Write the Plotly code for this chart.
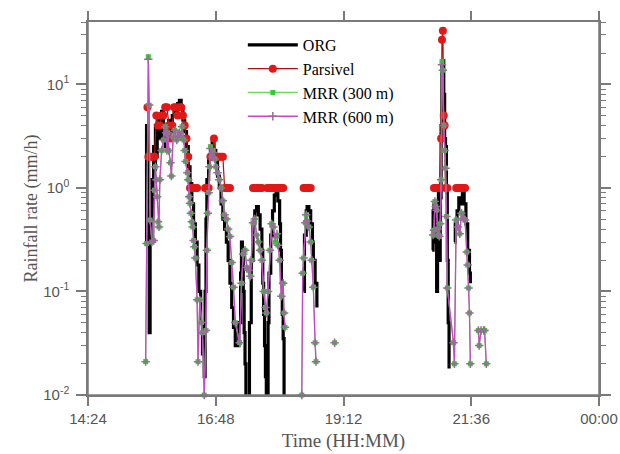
import math
import plotly.graph_objects as go

DAY = "2000-01-01 "

# ---------------- data (time HH:MM, rainfall rate mm/h); None = gap ----------------
org = [
    ("15:29", 0.3), ("15:30", 4.0), ("15:31", 0.6), ("15:32", 0.3), ("15:33", 0.04), ("15:34", 0.3),
    ("15:35", 1.2), ("15:36", 0.5), ("15:37", 1.0), ("15:38", 2.5), ("15:39", 1.5), ("15:40", 4.0),
    ("15:41", 2.0), ("15:42", 3.0), ("15:43", 4.5), ("15:45", 3.0), ("15:47", 5.5), ("15:49", 4.0),
    ("15:51", 2.5), ("15:53", 3.0), ("15:55", 4.5), ("15:57", 3.5), ("15:59", 5.0), ("16:01", 6.0),
    ("16:03", 5.5), ("16:05", 6.5), ("16:07", 7.0), ("16:09", 6.0), ("16:11", 4.5), ("16:13", 3.5),
    ("16:15", 2.5), ("16:17", 1.6), ("16:19", 1.1), ("16:21", 0.7), ("16:23", 0.45), ("16:25", 0.3),
    ("16:27", 0.18), ("16:29", 0.1), ("16:31", 0.05), ("16:33", 0.025), ("16:35", 0.015),
    ("16:36", 0.1), ("16:37", 0.5), ("16:38", 1.2), ("16:40", 2.0), ("16:42", 2.5), ("16:44", 2.8),
    ("16:46", 2.3), ("16:48", 1.8), ("16:50", 1.3), ("16:52", 1.0), ("16:54", 0.7), ("16:56", 0.5),
    ("16:58", 0.4), ("17:00", 0.3), ("17:02", 0.2), ("17:04", 0.12), ("17:06", 0.07), ("17:08", 0.045),
    ("17:10", 0.03), ("17:14", 0.05), ("17:16", 0.15), ("17:17", 0.3), ("17:18", 0.25), ("17:19", 0.1),
    ("17:20", 0.04), ("17:21", 0.02), ("17:22", 0.004), ("17:24", 0.004), ("17:26", 0.05), ("17:28", 0.2),
    ("17:30", 0.45), ("17:32", 0.6), ("17:34", 0.66), ("17:36", 0.55), ("17:38", 0.4), ("17:40", 0.25),
    ("17:41", 0.12), ("17:42", 0.06), ("17:43", 0.03), ("17:44", 0.015), ("17:45", 0.004),
    ("17:47", 0.05), ("17:48", 0.15), ("17:50", 0.35), ("17:52", 0.6), ("17:54", 0.85), ("17:56", 0.9),
    ("17:58", 0.75), ("18:00", 0.45), ("18:01", 0.25), ("18:02", 0.12), ("18:03", 0.06), ("18:04", 0.035),
    ("18:05", 0.004), ("18:15", None),
    ("18:27", 0.1), ("18:28", 0.35), ("18:30", 0.6), ("18:31", 0.66), ("18:33", 0.6), ("18:35", 0.45),
    ("18:37", 0.3), ("18:38", 0.2), ("18:40", 0.12), ("18:42", 0.07), ("18:50", None),
    ("20:52", 0.25), ("20:53", 0.6), ("20:54", 0.7), ("20:55", 0.5), ("20:56", 0.3), ("20:57", 0.1),
    ("20:58", 0.4), ("20:59", 0.9), ("21:00", 0.2), ("21:01", 0.8), ("21:02", 4.0), ("21:03", 15.0),
    ("21:04", 17.0), ("21:05", 8.0), ("21:06", 3.0), ("21:07", 2.5), ("21:08", 1.0), ("21:09", 0.2),
    ("21:10", 0.05), ("21:11", 0.018), ("21:14", None),
    ("21:17", 0.3), ("21:18", 0.45), ("21:20", 0.6), ("21:22", 0.8), ("21:24", 0.7), ("21:26", 0.9),
    ("21:28", 0.7), ("21:30", 0.45), ("21:32", 0.25), ("21:34", 0.15), ("21:35", 0.12),
]

parsivel = [
    ("15:31", 6), ("15:32", 2), ("15:33", 2), ("15:35", 2), ("15:37", 2), ("15:39", 2), ("15:41", 5),
    ("15:43", 4), ("15:45", 4), ("15:47", 5), ("15:49", 5), ("15:51", 6), ("15:53", 6), ("15:55", 4),
    ("15:57", 3), ("15:59", 4), ("16:01", 6), ("16:03", 6), ("16:05", 5), ("16:07", 6), ("16:09", 6),
    ("16:11", 5), ("16:13", 4), ("16:15", 3), ("16:17", 2), ("16:19", 1), ("16:21", 1), ("16:23", 1),
    ("16:25", 1), ("16:27", 1), ("16:31", None),
    ("16:36", 1), ("16:38", 1), ("16:40", 1), ("16:42", 2), ("16:44", 2), ("16:46", 3), ("16:48", 2),
    ("16:50", 2), ("16:52", 2), ("16:54", 2), ("16:56", 2), ("16:58", 1), ("17:00", 1), ("17:02", 1),
    ("17:04", 1), ("17:10", None),
    ("17:30", 1), ("17:32", 1), ("17:34", 1), ("17:36", 1), ("17:38", 1), ("17:40", 1), ("17:43", None),
    ("17:46", 1), ("17:48", 1), ("17:50", 1), ("17:52", 1), ("17:54", 1), ("17:56", 1), ("17:58", 1),
    ("18:00", 1), ("18:02", 1), ("18:04", 1), ("18:15", None),
    ("18:27", 1), ("18:29", 1), ("18:31", 1), ("18:33", 1), ("18:35", 1), ("18:45", None),
    ("20:54", 1), ("20:56", 1), ("20:58", 1), ("21:00", 1), ("21:02", 3), ("21:03", 27), ("21:04", 33),
    ("21:05", 5), ("21:06", 4), ("21:07", 1), ("21:09", 1), ("21:14", None),
    ("21:19", 1), ("21:21", 1), ("21:23", 1), ("21:25", 1), ("21:27", 1), ("21:29", 1),
]

mrr300 = [
    ("15:29", 0.021), ("15:30", 0.29), ("15:32", 18.5), ("15:33", 6.3), ("15:34", 0.49), ("15:36", 0.30),
    ("15:38", 0.31), ("15:39", 0.95), ("15:40", 1.6), ("15:41", 1.2), ("15:42", 0.82), ("15:43", 0.47),
    ("15:44", 0.42), ("15:45", 1.2), ("15:47", 2.3), ("15:49", 2.9), ("15:51", 3.9), ("15:52", 3.4),
    ("15:53", 2.3), ("15:54", 3.4), ("15:55", 2.3), ("15:57", 1.75), ("15:58", 1.3), ("16:00", 3.1),
    ("16:02", 3.6), ("16:04", 2.9), ("16:05", 3.1), ("16:07", 3.4), ("16:09", 3.1), ("16:10", 3.9),
    ("16:12", 2.9), ("16:13", 2.3), ("16:14", 1.8), ("16:16", 1.4), ("16:17", 1.2), ("16:18", 0.82),
    ("16:19", 0.71), ("16:20", 0.57), ("16:21", 0.47), ("16:22", 0.42), ("16:23", 0.31), ("16:24", 0.27),
    ("16:25", 0.21), ("16:27", 0.083), ("16:28", 0.021), ("16:30", 0.083), ("16:32", 0.05), ("16:33", 0.04),
    ("16:35", 0.01), ("16:37", 0.042), ("16:38", 0.25), ("16:39", 0.57), ("16:40", 0.9), ("16:41", 1.6),
    ("16:42", 2.5), ("16:44", 2.0), ("16:45", 2.3), ("16:47", 1.9), ("16:48", 1.6), ("16:50", 1.4),
    ("16:52", 1.2), ("16:54", 1.0), ("16:56", 0.75), ("16:58", 0.55), ("17:00", 0.5), ("17:02", 0.4),
    ("17:04", 0.34), ("17:06", 0.19), ("17:08", 0.11), ("17:10", 0.05), ("17:15", 0.032), ("17:17", 0.12),
    ("17:19", 0.23), ("17:21", 0.25), ("17:23", 0.17), ("17:25", 0.16), ("17:27", 0.14), ("17:28", 0.2),
    ("17:30", 0.46), ("17:32", 0.5), ("17:34", 0.35), ("17:36", 0.3), ("17:38", 0.25), ("17:40", 0.2),
    ("17:42", 0.1), ("17:44", 0.07), ("17:45", 0.062), ("17:47", 0.1), ("17:49", 0.25), ("17:51", 0.45),
    ("17:53", 0.42), ("17:55", 0.3), ("17:57", 0.35), ("17:58", 0.28), ("18:00", 0.2), ("18:02", 0.09),
    ("18:04", 0.12), ("18:05", 0.062), ("18:06", 0.045), ("18:15", None),
    ("18:25", 0.01), ("18:26", 0.15), ("18:27", 0.21), ("18:29", 0.46), ("18:30", 0.55), ("18:31", 0.48),
    ("18:33", 0.42), ("18:35", 0.3), ("18:36", 0.2), ("18:38", 0.11), ("18:40", 0.032), ("18:41", 0.021),
    ("18:50", None), ("19:02", 0.032), ("19:10", None),
    ("20:53", 0.35), ("20:54", 0.39), ("20:55", 0.74), ("20:56", 0.66), ("20:57", 0.61), ("20:58", 0.40),
    ("20:59", 0.35), ("21:00", 0.34), ("21:01", 0.45), ("21:02", 1.2), ("21:03", 16.6), ("21:04", 13.7),
    ("21:05", 4.0), ("21:06", 2.3), ("21:07", 1.55), ("21:08", 0.53), ("21:09", 0.108), ("21:16", 0.032),
    ("21:17", 0.02), ("21:19", 0.49), ("21:21", 0.42), ("21:23", 0.36), ("21:25", 0.57), ("21:27", 0.51),
    ("21:29", 0.49), ("21:31", 0.24), ("21:32", 0.18), ("21:33", 0.108), ("21:34", 0.062), ("21:35", 0.02),
    ("21:40", None),
    ("21:44", 0.042), ("21:45", 0.03), ("21:47", 0.042), ("21:50", 0.042), ("21:51", 0.042), ("21:53", 0.02),
]

mrr600 = [
    ("15:29", 0.021), ("15:30", 0.29), ("15:32", 17.5), ("15:33", 6.3), ("15:34", 0.49), ("15:36", 0.30),
    ("15:38", 0.31), ("15:39", 0.95), ("15:40", 1.6), ("15:41", 1.2), ("15:42", 0.82), ("15:43", 0.47),
    ("15:44", 0.42), ("15:45", 1.2), ("15:47", 2.3), ("15:49", 2.9), ("15:51", 3.9), ("15:52", 3.4),
    ("15:53", 2.3), ("15:54", 3.4), ("15:55", 2.3), ("15:57", 1.75), ("15:58", 1.3), ("16:00", 3.1),
    ("16:02", 3.6), ("16:04", 2.9), ("16:05", 3.1), ("16:07", 3.4), ("16:09", 3.1), ("16:10", 3.9),
    ("16:12", 2.9), ("16:13", 2.3), ("16:14", 1.8), ("16:16", 1.4), ("16:17", 1.2), ("16:18", 0.82),
    ("16:19", 0.71), ("16:20", 0.57), ("16:21", 0.47), ("16:22", 0.42), ("16:23", 0.31), ("16:24", 0.27),
    ("16:25", 0.21), ("16:27", 0.083), ("16:28", 0.021), ("16:30", 0.083), ("16:32", 0.05), ("16:33", 0.04),
    ("16:35", 0.01), ("16:37", 0.042), ("16:38", 0.25), ("16:39", 0.57), ("16:40", 0.9), ("16:41", 1.6),
    ("16:42", 2.4), ("16:44", 2.0), ("16:45", 2.2), ("16:47", 1.9), ("16:48", 1.6), ("16:50", 1.4),
    ("16:52", 1.2), ("16:54", 1.0), ("16:56", 0.75), ("16:58", 0.55), ("17:00", 0.5), ("17:02", 0.4),
    ("17:04", 0.34), ("17:06", 0.19), ("17:08", 0.11), ("17:10", 0.05), ("17:15", 0.032), ("17:17", 0.12),
    ("17:19", 0.23), ("17:21", 0.25), ("17:23", 0.17), ("17:25", 0.16), ("17:27", 0.14), ("17:28", 0.2),
    ("17:30", 0.46), ("17:32", 0.5), ("17:34", 0.35), ("17:36", 0.3), ("17:38", 0.25), ("17:40", 0.2),
    ("17:42", 0.1), ("17:44", 0.07), ("17:45", 0.062), ("17:47", 0.1), ("17:49", 0.25), ("17:51", 0.45),
    ("17:53", 0.42), ("17:55", 0.33), ("17:57", 0.36), ("17:58", 0.28), ("18:00", 0.2), ("18:02", 0.09),
    ("18:04", 0.12), ("18:05", 0.062), ("18:06", 0.045), ("18:15", None),
    ("18:25", 0.01), ("18:26", 0.15), ("18:27", 0.21), ("18:29", 0.46), ("18:30", 0.55), ("18:31", 0.48),
    ("18:33", 0.42), ("18:35", 0.3), ("18:36", 0.2), ("18:38", 0.11), ("18:40", 0.032), ("18:41", 0.021),
    ("18:50", None), ("19:02", 0.032), ("19:10", None),
    ("20:53", 0.35), ("20:54", 0.39), ("20:55", 0.74), ("20:56", 0.66), ("20:57", 0.61), ("20:58", 0.40),
    ("20:59", 0.35), ("21:00", 0.34), ("21:01", 0.45), ("21:02", 1.2), ("21:03", 15.5), ("21:04", 13.7),
    ("21:05", 4.0), ("21:06", 2.3), ("21:07", 1.55), ("21:08", 0.53), ("21:09", 0.108), ("21:16", 0.032),
    ("21:17", 0.02), ("21:19", 0.49), ("21:21", 0.42), ("21:23", 0.36), ("21:25", 0.57), ("21:27", 0.51),
    ("21:29", 0.49), ("21:31", 0.24), ("21:32", 0.18), ("21:33", 0.108), ("21:34", 0.062), ("21:35", 0.02),
    ("21:40", None),
    ("21:44", 0.042), ("21:45", 0.03), ("21:47", 0.042), ("21:50", 0.042), ("21:51", 0.042), ("21:53", 0.02),
]

y_major = [0.01, 0.1, 1, 10]
y_major_text = ["10<sup>-2</sup>", "10<sup>-1</sup>", "10<sup>0</sup>", "10<sup>1</sup>"]
y_top = 40

x_start = "2000-01-01 14:24"
x_end = "2000-01-02 00:00"


def split(series):
    xs = [DAY + t + ":00" for t, _ in series]
    ys = [v for _, v in series]
    return xs, ys


AX = "#7a7a7a"
TICKFONT = dict(family="Liberation Sans, Arial, sans-serif", size=15, color="#555555")
SERIF = "Liberation Serif, Times New Roman, serif"

fig = go.Figure()

x, y = split(org)
fig.add_trace(go.Scatter(x=x, y=y, name="ORG", mode="lines", line_shape="hv",
                         line=dict(color="black", width=3.2), legendgroup="a"))
x, y = split(parsivel)
fig.add_trace(go.Scatter(x=x, y=y, name="Parsivel", mode="lines+markers",
                         line=dict(color="#b01010", width=1.2),
                         marker=dict(symbol="circle", size=8, color="#e01818"),
                         legendgroup="b", cliponaxis=False))
x, y = split(mrr300)
fig.add_trace(go.Scatter(x=x, y=y, name="MRR (300 m)", mode="lines+markers",
                         line=dict(color="#66dd55", width=1.2),
                         marker=dict(symbol="square", size=5, color="#33cc33"),
                         legendgroup="c", cliponaxis=False))
x, y = split(mrr600)
fig.add_trace(go.Scatter(x=x, y=y, name="MRR (600 m)", mode="lines+markers",
                         line=dict(color="#cc44cc", width=1.3),
                         marker=dict(symbol="cross-thin", size=6, color="#9a6a9a",
                                     line=dict(color="#9a6a9a", width=1.5)),
                         legendgroup="d", cliponaxis=False))

minor_vals = []
for e in range(-2, 2):
    for m in range(2, 10):
        v = m * 10 ** e
        if v <= y_top:
            minor_vals.append(v)

fig.update_layout(
    width=620, height=454,
    margin=dict(l=88, r=21, t=22, b=59, autoexpand=False),
    paper_bgcolor="white", plot_bgcolor="white",
    showlegend=True,
    legend=dict(x=0.303, y=0.984, xanchor="left", yanchor="top",
                font=dict(family=SERIF, size=16, color="black"),
                bgcolor="rgba(0,0,0,0)", itemwidth=50, tracegroupgap=0,
                traceorder="grouped"),
    xaxis=dict(type="date", range=[x_start, x_end], tick0=x_start, dtick=8640000,
               tickformat="%H:%M", ticks="outside", ticklen=9, tickwidth=1.5, tickcolor=AX,
               showline=True, linecolor=AX, linewidth=1.5, mirror="ticks", showgrid=False,
               zeroline=False, tickfont=TICKFONT, automargin=False, ticklabeloverflow="allow",
               title=dict(text="Time (HH:MM)", font=dict(family=SERIF, size=19, color="#555555"),
                          standoff=8)),
    yaxis=dict(type="log", range=[-2, math.log10(y_top)], tickmode="array", tickvals=y_major,
               ticktext=y_major_text, ticks="outside", ticklen=10, tickwidth=1.5, tickcolor=AX,
               minor=dict(tickmode="array", tickvals=minor_vals, ticks="outside", ticklen=5,
                          tickwidth=1.2, tickcolor=AX, showgrid=False),
               showline=True, linecolor=AX, linewidth=1.5, mirror="ticks", showgrid=False,
               zeroline=False, tickfont=TICKFONT, ticklabelstandoff=4, automargin=False,
               title=dict(text="Rainfall rate (mm/h)", font=dict(family=SERIF, size=18, color="#555555"),
                          standoff=1)),
)

# axis line overhangs as in the original software output
fig.add_shape(type="line", xref="paper", yref="paper", x0=-10 / 511, x1=1 + 11 / 511, y0=0, y1=0,
              line=dict(color=AX, width=1.5), layer="above")
for xp in (0, 1):
    fig.add_shape(type="line", xref="paper", yref="paper", x0=xp, x1=xp, y0=0, y1=1 + 11 / 373,
                  line=dict(color=AX, width=1.5), layer="above")

# remove the default page margin so the 620x454 figure fills the window exactly
fig.write_html("out.html", config={"displayModeBar": False},
               post_script="document.body.style.margin='0';document.body.style.overflow='hidden';")
